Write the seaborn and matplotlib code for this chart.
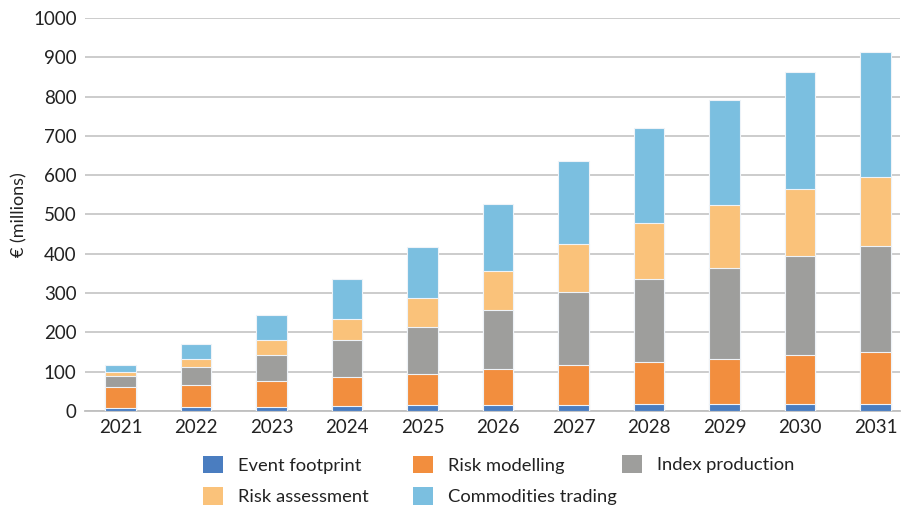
import numpy as np
import pandas as pd
import matplotlib
matplotlib.use("Agg")
import matplotlib.pyplot as plt
import seaborn as sns
from matplotlib.patches import Patch

years = ["2021", "2022", "2023", "2024", "2025", "2026", "2027", "2028", "2029", "2030", "2031"]
event_footprint = [8, 10, 10, 13, 14, 16, 16, 17, 17, 18, 19]
risk_modelling = [53, 57, 67, 74, 81, 90, 101, 108, 116, 125, 132]
index_production = [28, 45, 66, 93, 119, 152, 185, 211, 232, 252, 268]
risk_assessment = [10, 21, 37, 55, 74, 98, 123, 142, 159, 169, 176]
commodities_trading = [19, 37, 63, 100, 130, 170, 210, 242, 268, 298, 319]

series_names = ["Event footprint", "Risk modelling", "Index production",
                "Risk assessment", "Commodities trading"]
series_vals = [event_footprint, risk_modelling, index_production,
               risk_assessment, commodities_trading]
colors = ["#4a7dc0", "#f28e3e", "#9e9e9c", "#fac27a", "#7bbfe0"]

sns.set_theme(style="white")
plt.rcParams["font.family"] = ["Lato", "DejaVu Sans"]

W, H = 901, 511
fig = plt.figure(figsize=(W / 100, H / 100), dpi=100)
ax = fig.add_axes([0.0943, 0.1957, 0.905, 0.7691])

df = pd.DataFrame({"year": years})
cum = np.zeros(len(years))
cums = []
for vals in series_vals:
    cum = cum + np.array(vals, dtype=float)
    cums.append(cum.copy())

# draw from top (largest cumulative) down so lower segments overlay
for name, c, color in reversed(list(zip(series_names, cums, colors))):
    d = df.copy()
    d["value"] = c
    sns.barplot(data=d, x="year", y="value", color=color, ax=ax, width=0.40,
                saturation=1, edgecolor="#eef3f8", linewidth=0.8, zorder=3)

ax.set_ylim(0, 1000)
ax.set_xlim(-0.47, 10.33)
ax.set_yticks(np.arange(0, 1001, 100))
ax.yaxis.grid(True, color="#c8c8c8", linewidth=1.3, zorder=0)
ax.set_axisbelow(True)
for s in ["top", "right", "left"]:
    ax.spines[s].set_visible(False)
ax.spines["bottom"].set_color("#bfbfbf")
ax.spines["bottom"].set_linewidth(1.3)
ax.tick_params(axis="both", length=0, labelsize=13.5, colors="#222222", pad=6)
ax.set_xlabel("")
ax.set_ylabel("€ (millions)", fontsize=13, color="#222222", labelpad=4)

handles = [Patch(facecolor=col, edgecolor="none") for col in colors]
# fixed-width legend columns (pixel x of each column's marker)
columns = [([0, 3], 203), ([1, 4], 413), ([2], 622)]
for idx, xpix in columns:
    ycen = (464 + 497) / 2 if len(idx) == 2 else 464
    leg = fig.legend([handles[i] for i in idx], [series_names[i] for i in idx],
                     loc="center left", bbox_to_anchor=(xpix / W, 1 - ycen / H),
                     frameon=False, fontsize=13.2, handlelength=1.1,
                     handleheight=1.1, labelspacing=0.75, handletextpad=0.8,
                     borderaxespad=0, borderpad=0)
    for t in leg.get_texts():
        t.set_color("#222222")

fig.savefig("out.png", dpi=100)
